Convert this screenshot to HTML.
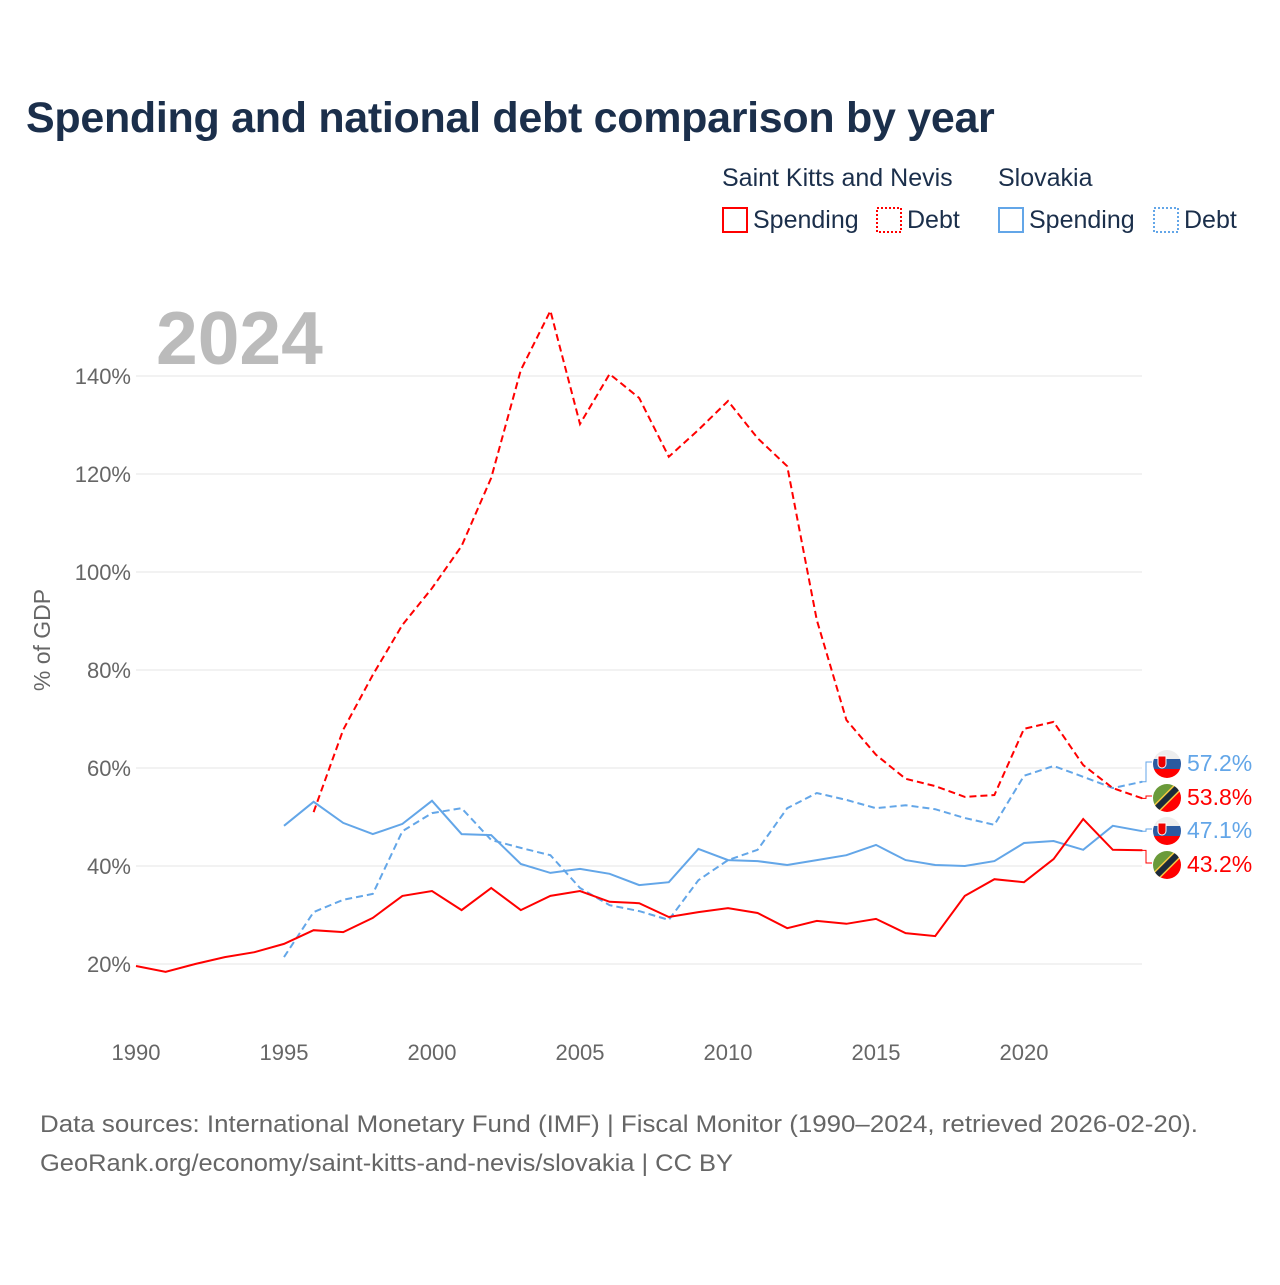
<!DOCTYPE html>
<html><head><meta charset="utf-8"><style>
body{margin:0;background:#fff;width:1280px;height:1280px;overflow:hidden;font-family:"Liberation Sans",sans-serif}
svg text{font-family:"Liberation Sans",sans-serif}
</style></head><body>
<svg id="c" width="1280" height="1280">
<defs>
<clipPath id="fc"><circle cx="0" cy="0" r="14"/></clipPath>
</defs>
<text x="26" y="132" font-size="43" font-weight="bold" fill="#1b2f4b" letter-spacing="-0.3">Spending and national debt comparison by year</text>
<g font-size="25" fill="#1b2f4b">
<text x="722" y="186" fill="#1b2f4b">Saint Kitts and Nevis</text>
<text x="998" y="186" fill="#1b2f4b">Slovakia</text>
<rect x="723" y="208" width="24" height="24" fill="none" stroke="#f00" stroke-width="2"/>
<text x="753" y="228" fill="#1b2f4b">Spending</text>
<rect x="877" y="208" width="24" height="24" fill="none" stroke="#f00" stroke-width="2" stroke-dasharray="2,2"/>
<text x="907" y="228" fill="#1b2f4b">Debt</text>
<rect x="999" y="208" width="24" height="24" fill="none" stroke="#63a6e8" stroke-width="2"/>
<text x="1029" y="228" fill="#1b2f4b">Spending</text>
<rect x="1154" y="208" width="24" height="24" fill="none" stroke="#63a6e8" stroke-width="2" stroke-dasharray="2,2"/>
<text x="1184" y="228" fill="#1b2f4b">Debt</text>
</g>
<text x="156" y="364" font-size="75" font-weight="bold" fill="#bbb">2024</text>
<text transform="translate(50,640) rotate(-90)" text-anchor="middle" font-size="23" fill="#666">% of GDP</text>
<g id="grid"></g><g id="series"></g><g id="ends"></g>
<text x="40" y="1132" font-size="24" fill="#666" textLength="1158" lengthAdjust="spacingAndGlyphs">Data sources: International Monetary Fund (IMF) | Fiscal Monitor (1990–2024, retrieved 2026-02-20).</text>
<text x="40" y="1171" font-size="24" fill="#666" textLength="693" lengthAdjust="spacingAndGlyphs">GeoRank.org/economy/saint-kitts-and-nevis/slovakia | CC BY</text>
</svg>
<script>
const yTicks=[20,40,60,80,100,120,140];
const xTicks=[1990,1995,2000,2005,2010,2015,2020];
const sknSpendStart=1990;
const sknSpend=[19.6,18.4,20,21.4,22.4,24.1,26.9,26.5,29.4,33.9,34.9,31,35.5,31,33.9,34.9,32.7,32.4,29.6,30.6,31.4,30.4,27.3,28.8,28.2,29.2,26.3,25.7,33.9,37.3,36.7,41.4,49.6,43.3,43.2];
const sknDebtStart=1996;
const sknDebt=[51,67.8,79,89.2,96.7,105.3,119.2,141.2,153.3,130.2,140.4,135.5,123.5,129,134.9,127.3,121.6,90.2,69.8,62.7,57.8,56.3,54.1,54.5,68,69.4,60.6,55.9,53.8];
const svkStart=1995;
const svkSpend=[48.2,53.1,48.8,46.5,48.6,53.3,46.5,46.3,40.4,38.6,39.4,38.4,36.1,36.7,43.5,41.2,41,40.2,41.2,42.2,44.3,41.2,40.2,40,41,44.7,45.1,43.3,48.2,47.1];
const svkDebt=[21.4,30.6,33.1,34.3,47.1,50.8,51.8,45.3,43.7,42.2,35.5,32,30.8,29,37.1,41.2,43.3,51.8,54.9,53.5,51.8,52.4,51.6,49.8,48.4,58.4,60.4,58.2,55.9,57.2];
const X=y=>136+(y-1990)*29.6, Y=v=>964-(v-20)*4.9;
const NS="http://www.w3.org/2000/svg";
function mk(t,a,p){const e=document.createElementNS(NS,t);for(const k in a)e.setAttribute(k,a[k]);p.appendChild(e);return e;}
const grid=document.getElementById('grid');
yTicks.forEach(v=>{
 const l=mk('line',{x1:136,x2:1142,y1:Y(v),y2:Y(v),stroke:'#e4e4e4','stroke-width':1},grid);
 
 
 const t=mk('text',{x:131,y:Y(v)+8,'text-anchor':'end','font-size':22,fill:'#666'},grid);t.textContent=v+'%';
 
 
});
xTicks.forEach(v=>{
 const t=mk('text',{x:X(v),y:1060,'text-anchor':'middle','font-size':22,fill:'#666'},grid);t.textContent=v;
 
 
});
const S=document.getElementById('series');
function line(arr,start,col,dash,name){
 const d=arr.map((v,i)=>(i?'L':'M')+X(start+i).toFixed(1)+','+Y(v).toFixed(1)).join('');
 const p=mk('path',{d:d,fill:'none',stroke:col,'stroke-width':2,'stroke-dasharray':dash||'none'},S);
 
 
}
const RED='#f00',BLUE='#63a6e8';
line(svkDebt,svkStart,BLUE,'7,4','svk-debt-line');
line(svkSpend,svkStart,BLUE,null,'svk-spending-line');
line(sknDebt,sknDebtStart,RED,'7,4','skn-debt-line');
line(sknSpend,sknSpendStart,RED,null,'skn-spending-line');
const E=document.getElementById('ends');
const ends=[[svkDebt,BLUE,762,'svk'],[sknDebt,RED,796,'skn'],[svkSpend,BLUE,829,'svk'],[sknSpend,RED,863,'skn']];
ends.forEach(([arr,col,ly,f],i)=>{
 const v=arr[arr.length-1],y0=Y(v);
 mk('path',{d:`M1142,${y0}L1146,${y0}L1146,${ly}L1152,${ly}`,fill:'none',stroke:col,'stroke-width':1},E);
 const g=mk('g',{transform:`translate(1167,${ly+2})`},E);
 
 
 if(f==='svk'){
  mk('rect',{x:-15,y:-15,width:30,height:10,fill:'#eee','clip-path':'url(#fc)'},g);
  mk('rect',{x:-15,y:-5,width:30,height:10,fill:'#2b5aa0','clip-path':'url(#fc)'},g);
  mk('rect',{x:-15,y:5,width:30,height:10,fill:'#f00','clip-path':'url(#fc)'},g);
  mk('path',{d:'M-9,-8h8v8a4,4 0 0 1-8,0z',fill:'#e00',stroke:'#fff','stroke-width':1},g);
 }else{
  mk('path',{d:'M-15,-15H15L-15,15z',fill:'#6a9a3a','clip-path':'url(#fc)'},g);
  mk('path',{d:'M15,-15V15H-15z',fill:'#f00','clip-path':'url(#fc)'},g);
  mk('line',{x1:-14,y1:14,x2:14,y2:-14,stroke:'#f5c842','stroke-width':9,'clip-path':'url(#fc)'},g);
  mk('line',{x1:-14,y1:14,x2:14,y2:-14,stroke:'#1b2a3a','stroke-width':6,'clip-path':'url(#fc)'},g);
 }
 const t=mk('text',{x:1187,y:ly+9,'font-size':23,fill:col},E);t.textContent=v.toFixed(1)+'%';
 
 
});
</script>
</body></html>
